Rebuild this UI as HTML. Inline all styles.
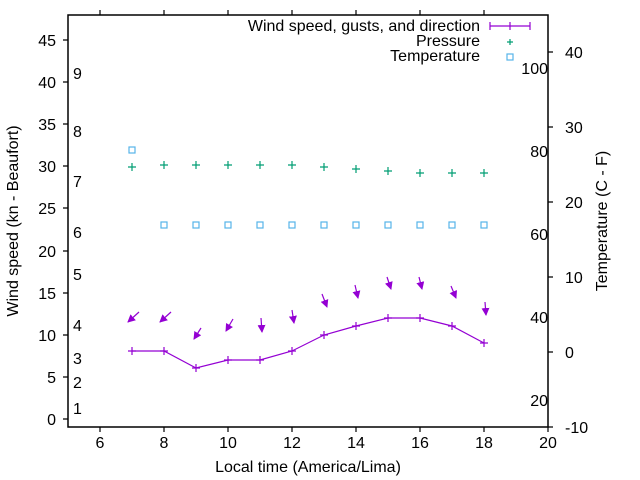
<!DOCTYPE html>
<html><head><style>body{margin:0;background:#fff}svg{display:block}text{font-family:"Liberation Sans",sans-serif;font-size:16px;fill:#000}</style></head><body>
<svg width="640" height="480" xmlns="http://www.w3.org/2000/svg">
<defs><marker id="ah" markerWidth="8" markerHeight="8" refX="7" refY="4" orient="auto" markerUnits="userSpaceOnUse"><path d="M0,0 L8,4 L0,8 Z" fill="#9400d3"/></marker></defs>
<rect x="68" y="15" width="480" height="412" fill="none" stroke="#000" stroke-width="1.5"/>
<g stroke="#000" stroke-width="1.2">
<path d="M63,419H68M63,377H68M63,335H68M63,293H68M63,251H68M63,208H68M63,166H68M63,124H68M63,82H68M63,40H68"/>
<path d="M100,427V432M164,427V432M228,427V432M292,427V432M356,427V432M420,427V432M484,427V432M548,427V432"/>
<path d="M100,10V15M164,10V15M228,10V15M292,10V15M356,10V15M420,10V15M484,10V15"/>
<path d="M548,427H553M548,352H553M548,277H553M548,202H553M548,127H553M548,52H553"/>
</g>
<g text-anchor="end">
<text x="56" y="425">0</text><text x="56" y="383">5</text><text x="56" y="341">10</text><text x="56" y="299">15</text><text x="56" y="257">20</text><text x="56" y="214">25</text><text x="56" y="172">30</text><text x="56" y="130">35</text><text x="56" y="88">40</text><text x="56" y="46">45</text>
</g>
<g text-anchor="middle">
<text x="100" y="448">6</text><text x="164" y="448">8</text><text x="228" y="448">10</text><text x="292" y="448">12</text><text x="356" y="448">14</text><text x="420" y="448">16</text><text x="484" y="448">18</text><text x="548" y="448">20</text>
<text x="308" y="472">Local time (America/Lima)</text>
</g>
<g>
<text x="565" y="433">-10</text><text x="565" y="358">0</text><text x="565" y="283">10</text><text x="565" y="208">20</text><text x="565" y="133">30</text><text x="565" y="58">40</text>
</g>
<text transform="translate(18,221) rotate(-90)" text-anchor="middle">Wind speed (kn - Beaufort)</text>
<text transform="translate(607,221) rotate(-90)" text-anchor="middle">Temperature (C - F)</text>
<g>
<text x="73" y="414">1</text><text x="73" y="388">2</text><text x="73" y="364">3</text><text x="73" y="331">4</text><text x="73" y="280">5</text><text x="73" y="238">6</text><text x="73" y="187">7</text><text x="73" y="137">8</text><text x="73" y="79">9</text>
</g>
<g text-anchor="end">
<text x="548" y="74">100</text><text x="548" y="157">80</text><text x="548" y="240">60</text><text x="548" y="323">40</text><text x="548" y="406">20</text>
</g>
<g text-anchor="end">
<text x="480" y="31">Wind speed, gusts, and direction</text>
<text x="480" y="46">Pressure</text>
<text x="480" y="61">Temperature</text>
</g>
<g stroke="#9400d3" stroke-width="1.2" fill="none">
<path d="M490,26H530M490,22V30M510,22V30M530,22V30"/>
<polyline points="132,351 164,351 196,368 228,360 260,360 292,351 324,335 356,326 388,318 420,318 452,326 484,343"/>
<path d="M132,347v8M164,347v8M196,364v8M228,356v8M260,356v8M292,347v8M324,331v8M356,322v8M388,314v8M420,314v8M452,322v8M484,339v8"/>
<path d="M128,351h8M160,351h8M192,368h8M224,360h8M256,360h8M288,351h8M320,335h8M352,326h8M384,318h8M416,318h8M448,326h8M480,343h8"/>
<g marker-end="url(#ah)">
<line x1="139" y1="312" x2="128" y2="322"/><line x1="171" y1="312" x2="160" y2="322"/>
<line x1="201" y1="328" x2="194" y2="339"/><line x1="233" y1="319" x2="226" y2="331"/>
<line x1="261" y1="318" x2="262" y2="332"/><line x1="292" y1="310" x2="294" y2="323"/>
<line x1="322" y1="294" x2="327" y2="307"/><line x1="355" y1="285" x2="358" y2="298"/>
<line x1="387" y1="277" x2="391" y2="289"/><line x1="419" y1="277" x2="422" y2="289"/>
<line x1="451" y1="286" x2="456" y2="298"/><line x1="485" y1="302" x2="486" y2="315"/>
</g>
</g>
<g stroke="#009e73" stroke-width="1.2">
<path d="M507,42h6M510,39v6"/>
<path d="M128,167h8M132,163v8 M160,165h8M164,161v8 M192,165h8M196,161v8 M224,165h8M228,161v8 M256,165h8M260,161v8 M288,165h8M292,161v8 M320,167h8M324,163v8 M352,169h8M356,165v8 M384,171h8M388,167v8 M416,173h8M420,169v8 M448,173h8M452,169v8 M480,173h8M484,169v8"/>
</g>
<g stroke="#56b4e9" stroke-width="1.2" fill="none">
<rect x="507" y="54" width="6" height="6"/>
<rect x="129" y="147" width="6" height="6"/>
<rect x="161" y="222" width="6" height="6"/><rect x="193" y="222" width="6" height="6"/><rect x="225" y="222" width="6" height="6"/><rect x="257" y="222" width="6" height="6"/><rect x="289" y="222" width="6" height="6"/><rect x="321" y="222" width="6" height="6"/><rect x="353" y="222" width="6" height="6"/><rect x="385" y="222" width="6" height="6"/><rect x="417" y="222" width="6" height="6"/><rect x="449" y="222" width="6" height="6"/><rect x="481" y="222" width="6" height="6"/>
</g>
</svg>
</body></html>
